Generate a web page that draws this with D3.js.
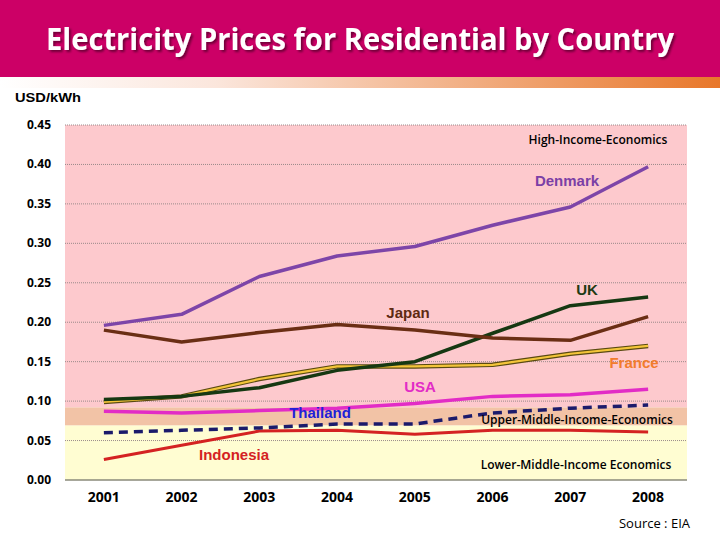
<!DOCTYPE html>
<html><head><meta charset="utf-8">
<script src="https://cdn.jsdelivr.net/npm/d3@7"></script>
<style>body{margin:0;background:#fff}svg{display:block}</style>
</head><body>
<svg id="c" width="720" height="540"></svg>
<script>
const years = ["2001","2002","2003","2004","2005","2006","2007","2008"];
const yTicks = [0,0.05,0.10,0.15,0.20,0.25,0.30,0.35,0.40,0.45];
const denmark   = [0.196,0.210,0.258,0.284,0.296,0.323,0.346,0.397];
const japan     = [0.190,0.175,0.187,0.197,0.190,0.180,0.177,0.207];
const uk        = [0.102,0.106,0.117,0.139,0.150,0.186,0.221,0.232];
const france    = [0.099,0.106,0.128,0.144,0.144,0.146,0.160,0.170];
const usa       = [0.087,0.085,0.088,0.091,0.097,0.106,0.108,0.115];
const thailand  = [0.060,0.063,0.066,0.071,0.071,0.085,0.091,0.095];
const indonesia = [0.026,0.044,0.062,0.063,0.058,0.063,0.063,0.061];
const bands = [
  {name:"High-Income-Economics", lo:0.092, hi:0.45, color:"#FDC9CD"},
  {name:"Upper-Middle-Income-Economics", lo:0.069, hi:0.092, color:"#F2C3A6"},
  {name:"Lower-Middle-Income Economics", lo:0, hi:0.069, color:"#FFFDD2"}
];

const svg = d3.select("#c");
const L=65, R=687, T=125, B=480;
const x = d3.scalePoint().domain(years).range([L,R]).padding(0.5);
const y = d3.scaleLinear().domain([0,0.45]).range([B,T]);

// header
const defs = svg.append("defs");
const g1 = defs.append("linearGradient").attr("id","strip");
g1.append("stop").attr("offset","0").attr("stop-color","#ffffff");
g1.append("stop").attr("offset","0.3").attr("stop-color","#fbe6dc");
g1.append("stop").attr("offset","1").attr("stop-color","#E8772A");
const f = defs.append("filter").attr("id","sh").attr("x","-5%").attr("y","-20%").attr("width","110%").attr("height","140%");
f.append("feDropShadow").attr("dx",2).attr("dy",2).attr("stdDeviation",1).attr("flood-color","#000").attr("flood-opacity",0.45);
svg.append("rect").attr("x",0).attr("y",0).attr("width",720).attr("height",77).attr("fill","#CC0066");
svg.append("rect").attr("x",0).attr("y",77).attr("width",720).attr("height",11).attr("fill","url(#strip)");
svg.append("text").attr("x",360).attr("y",50).attr("text-anchor","middle")
  .attr("font-family","'Open Sans',Calibri,sans-serif").attr("font-weight","bold")
  .attr("font-size",30).attr("fill","#fff").attr("filter","url(#sh)")
  .attr("textLength",628).attr("lengthAdjust","spacingAndGlyphs")
  .text("Electricity Prices for Residential by Country");

svg.append("text").attr("x",15).attr("y",102).attr("font-family","'Liberation Sans',Arial,sans-serif")
  .attr("font-weight","bold").attr("font-size",13).attr("fill","#000")
  .attr("textLength",66).attr("lengthAdjust","spacingAndGlyphs").text("USD/kWh");

// bands
svg.selectAll("rect.band").data(bands).join("rect").attr("class","band")
  .attr("x",L).attr("width",R-L).attr("y",d=>y(d.hi)).attr("height",d=>y(d.lo)-y(d.hi)).attr("fill",d=>d.color);

// grid
svg.selectAll("line.grid").data(yTicks.filter(v=>v>0)).join("line").attr("class","grid")
  .attr("x1",L).attr("x2",R).attr("y1",d=>y(d)).attr("y2",d=>y(d))
  .attr("stroke","#9a8a8a").attr("stroke-width",1).attr("stroke-dasharray","1,1");
svg.append("line").attr("x1",L).attr("x2",R).attr("y1",B).attr("y2",B).attr("stroke","#8a8a7a").attr("stroke-width",1.5);

// y ticks
svg.selectAll("text.yt").data(yTicks).join("text").attr("class","yt")
  .attr("x",51).attr("y",d=>y(d)+4).attr("text-anchor","end")
  .attr("font-family","'Open Sans',Calibri,sans-serif").attr("font-weight","bold").attr("font-size",12)
  .attr("fill","#000").text(d=>d3.format(".2f")(d));
// x ticks
svg.selectAll("text.xt").data(years).join("text").attr("class","xt")
  .attr("x",d=>x(d)).attr("y",502).attr("text-anchor","middle")
  .attr("font-family","'Open Sans',Calibri,sans-serif").attr("font-weight","bold").attr("font-size",14)
  .attr("fill","#000").text(d=>d);

const line = d3.line().x((d,i)=>x(years[i])).y(d=>y(d));
function draw(data,color,w,dash){
  svg.append("path").datum(data).attr("d",line).attr("fill","none").attr("stroke",color)
    .attr("stroke-width",w).attr("stroke-dasharray",dash||null).attr("stroke-linejoin","round");
}
draw(indonesia,"#D42222",3);
draw(thailand,"#1B1B6B",3.5,"9,6");
draw(usa,"#E22CC6",3.5);
draw(france,"#5a4a10",4.5);
draw(france,"#F4C53A",2.2);
draw(uk,"#163812",3.5);
draw(japan,"#6A2E14",3.5);
draw(denmark,"#7D45A8",3.5);

// labels
const lab = (t,xx,yy,c)=>svg.append("text").attr("x",xx).attr("y",yy).attr("text-anchor","middle")
  .attr("font-family","'Liberation Sans',Arial,sans-serif").attr("font-weight","bold").attr("font-size",15)
  .attr("fill",c).text(t);
lab("Denmark",567,186,"#7B3FA6");
lab("UK",587,295,"#1E3A12");
lab("Japan",408,318,"#5E2A12");
lab("France",634,368,"#F27C2C");
lab("USA",420,392,"#E22CC6");
lab("Thailand",320,418,"#2020D8");
lab("Indonesia",234,460,"#D42222");
const cf = "'Open Sans',Calibri,sans-serif";
svg.append("text").attr("x",598).attr("y",144).attr("text-anchor","middle").attr("font-family",cf).attr("font-weight","600")
  .attr("font-size",12).attr("fill","#000").text(bands[0].name);
svg.append("text").attr("x",577).attr("y",424).attr("text-anchor","middle").attr("font-family",cf).attr("font-weight","600")
  .attr("font-size",12).attr("fill","#000").text(bands[1].name);
svg.append("text").attr("x",576).attr("y",469).attr("text-anchor","middle").attr("font-family",cf).attr("font-weight","600")
  .attr("font-size",12).attr("fill","#000").text(bands[2].name);
svg.append("text").attr("x",690).attr("y",528).attr("text-anchor","end").attr("font-family",cf)
  .attr("font-size",13).attr("fill","#000").text("Source : EIA");
</script>
</body></html>
